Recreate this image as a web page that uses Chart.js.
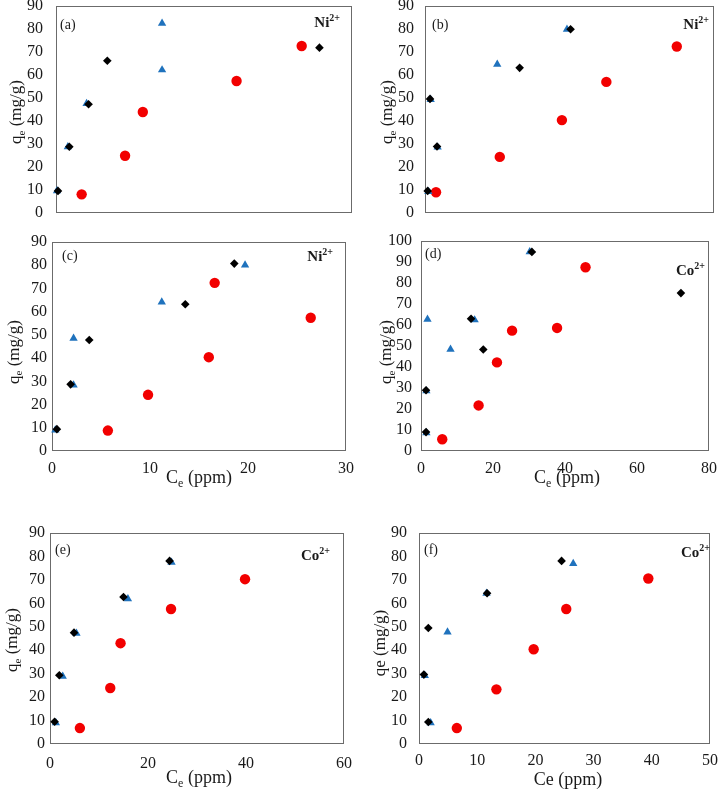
<!DOCTYPE html>
<html>
<head>
<meta charset="utf-8">
<script src="https://cdn.jsdelivr.net/npm/chart.js@4.4.1/dist/chart.umd.min.js"></script>
<style>
  html, body { margin: 0; padding: 0; background: #ffffff; }
  body { width: 725px; height: 790px; position: relative; overflow: hidden; }
  canvas { position: absolute; }
</style>
</head>
<body>
<script>
// ---------------- DATA ----------------
// Panel (a) Ni2+  (x axis unlabeled in the original)
const aBlackX = [0.2, 1.35, 3.3, 5.2, 26.7];
const aBlackY = [9.6, 28.8, 47.3, 66.2, 71.9];
const aBlueX  = [0.1, 1.2, 3.1, 10.75, 10.75];
const aBlueY  = [9.6, 28.8, 47.6, 62.2, 82.5];
const aRedX   = [2.6, 7.0, 8.8, 18.3, 24.9];
const aRedY   = [8.1, 24.9, 43.9, 57.4, 72.6];

// Panel (b) Ni2+  (x axis unlabeled in the original)
const bBlackX = [0.74, 1.39, 3.33, 26.2, 40.3];
const bBlackY = [9.6, 49.6, 28.9, 63.1, 79.9];
const bBlueX  = [0.92, 1.57, 3.5, 20.0, 39.3];
const bBlueY  = [9.3, 49.3, 28.6, 64.6, 79.9];
const bRedX   = [3.05, 20.7, 37.9, 50.2, 69.7];
const bRedY   = [9.0, 24.4, 40.4, 57.0, 72.4];

// Panel (c) Ni2+
const cBlackX = [0.5, 1.9, 3.8, 13.6, 18.6];
const cBlackY = [9.4, 28.7, 47.8, 63.2, 80.7];
const cBlueX  = [0.34, 2.2, 2.2, 11.2, 19.7];
const cBlueY  = [9.0, 28.4, 48.5, 64.1, 80.1];
const cRedX   = [5.7, 9.8, 16.0, 16.6, 26.4];
const cRedY   = [8.8, 24.2, 40.4, 72.4, 57.4];

// Panel (d) Co2+
const dBlackX = [1.4, 1.4, 13.9, 17.3, 30.8, 72.2];
const dBlackY = [9.0, 28.9, 63.0, 48.3, 94.8, 75.2];
const dBlueX  = [1.5, 1.5, 1.8, 8.2, 14.9, 30.2];
const dBlueY  = [8.7, 28.6, 62.7, 48.4, 62.4, 94.8];
const dRedX   = [5.9, 16.0, 21.1, 25.3, 37.8, 45.7];
const dRedY   = [5.6, 21.7, 42.2, 57.3, 58.6, 87.5];

// Panel (e) Co2+
const eBlackX = [0.94, 1.9, 4.9, 15.0, 24.4];
const eBlackY = [9.5, 29.3, 47.5, 62.7, 78.1];
const eBlueX  = [1.2, 2.6, 5.4, 15.9, 24.8];
const eBlueY  = [9.0, 28.9, 47.2, 61.9, 77.5];
const eRedX   = [6.1, 12.3, 14.4, 24.7, 39.8];
const eRedY   = [6.8, 23.9, 43.0, 57.6, 70.3];

// Panel (f) Co2+
const fBlackX = [0.84, 1.6, 1.6, 11.7, 24.5];
const fBlackY = [29.6, 9.4, 49.5, 64.3, 78.1];
const fBlueX  = [1.0, 2.0, 4.9, 11.6, 26.5];
const fBlueY  = [29.2, 9.0, 47.7, 64.3, 77.0];
const fRedX   = [6.5, 13.3, 19.7, 25.3, 39.4];
const fRedY   = [6.8, 23.3, 40.4, 57.6, 70.6];

// Axis ranges / ticks
const xRanges = { a: [0, 30, 10], b: [0, 80, 20], c: [0, 30, 10], d: [0, 80, 20], e: [0, 60, 20], f: [0, 50, 10] };
const yRanges = { a: [0, 90, 10], b: [0, 90, 10], c: [0, 90, 10], d: [0, 100, 10], e: [0, 90, 10], f: [0, 90, 10] };

// Texts
const panelLetters = { a: '(a)', b: '(b)', c: '(c)', d: '(d)', e: '(e)', f: '(f)' };
const ionNames = { a: ['Ni', '2+'], b: ['Ni', '2+'], c: ['Ni', '2+'], d: ['Co', '2+'], e: ['Co', '2+'], f: ['Co', '2+'] };
const yTitleSub = [['q', ''], ['e', 'sub'], [' (mg/g)', '']];
const yTitlePlain = [['qe (mg/g)', '']];
const xTitleSub = [['C', ''], ['e', 'sub'], [' (ppm)', '']];
const xTitlePlain = [['Ce (ppm)', '']];

// ---------------- LAYOUT (page pixels) ----------------
const FONT = "'Liberation Serif', 'Times New Roman', serif";
const panels = [
  { id: 'a', colX: 0,   colW: 362, area: { l: 56,  t: 6,   r: 352, b: 213 }, xTicks: false, yPad: 13, xPad: 8,
    letter: [60, 25], ion: [340, 22], yT: [15, 112], yTitle: yTitleSub, xT: null },
  { id: 'b', colX: 362, colW: 363, area: { l: 425, t: 6,   r: 714, b: 213 }, xTicks: false, yPad: 11, xPad: 8,
    letter: [432, 25], ion: [709, 24], yT: [386, 112], yTitle: yTitleSub, xT: null },
  { id: 'c', colX: 0,   colW: 362, area: { l: 52,  t: 242, r: 347, b: 451 }, xTicks: true,  yPad: 5, xPad: 8,
    letter: [62, 256], ion: [333, 256], yT: [12.5, 352], yTitle: yTitleSub, xT: [199, 477], xTitle: xTitleSub },
  { id: 'd', colX: 362, colW: 363, area: { l: 421, t: 241, r: 714, b: 451 }, xTicks: true,  yPad: 9, xPad: 8,
    letter: [425, 254], ion: [705, 270], yT: [385, 352], yTitle: yTitleSub, xT: [567, 477], xTitle: xTitleSub },
  { id: 'e', colX: 0,   colW: 362, area: { l: 50,  t: 533, r: 347, b: 744 }, xTicks: true,  yPad: 5, xPad: 10,
    letter: [55, 550], ion: [330, 555], yT: [11, 640], yTitle: yTitleSub, xT: [199, 777], xTitle: xTitleSub },
  { id: 'f', colX: 362, colW: 363, area: { l: 419, t: 533, r: 715, b: 744 }, xTicks: true,  yPad: 12, xPad: 7,
    letter: [424, 550], ion: [710, 552], yT: [379, 643], yTitle: yTitlePlain, xT: [568, 779], xTitle: xTitlePlain },
];

const seriesData = {
  a: [[aBlackX, aBlackY], [aBlueX, aBlueY], [aRedX, aRedY]],
  b: [[bBlackX, bBlackY], [bBlueX, bBlueY], [bRedX, bRedY]],
  c: [[cBlackX, cBlackY], [cBlueX, cBlueY], [cRedX, cRedY]],
  d: [[dBlackX, dBlackY], [dBlueX, dBlueY], [dRedX, dRedY]],
  e: [[eBlackX, eBlackY], [eBlueX, eBlueY], [eRedX, eRedY]],
  f: [[fBlackX, fBlackY], [fBlueX, fBlueY], [fRedX, fRedY]],
};

const BLACK = '#000000';
const BLUE = '#1f72bd';
const RED = '#f20000';
const TEXT = '#1a1a1a';
const BORDER = '#6b6b6b';

function pts(xs, ys) { return xs.map((x, i) => ({ x: x, y: ys[i] })); }

// rich text: parts = [[text, kind]] kind '' | 'sub' | 'sup'
function drawRich(ctx, parts, x, y, size, bold, align) {
  const weight = bold ? 'bold ' : '';
  const small = Math.round(size * 0.65);
  let total = 0;
  const widths = parts.map(p => {
    ctx.font = weight + (p[1] ? small : size) + 'px ' + FONT;
    const w = ctx.measureText(p[0]).width;
    total += w;
    return w;
  });
  let cx = align === 'center' ? x - total / 2 : (align === 'right' ? x - total : x);
  ctx.textBaseline = 'alphabetic';
  ctx.textAlign = 'left';
  parts.forEach((p, i) => {
    ctx.font = weight + (p[1] ? small : size) + 'px ' + FONT;
    let dy = 0;
    if (p[1] === 'sub') dy = size * 0.22;
    if (p[1] === 'sup') dy = -size * 0.38;
    ctx.fillText(p[0], cx, y + dy);
    cx += widths[i];
  });
}

panels.forEach(p => {
  const boxX = p.colX;
  const boxY = p.area.t - 30;
  const boxW = p.colW;
  const boxH = (p.area.b + 50) - boxY;
  const cv = document.createElement('canvas');
  cv.width = boxW; cv.height = boxH;
  cv.style.left = boxX + 'px'; cv.style.top = boxY + 'px';
  cv.style.width = boxW + 'px'; cv.style.height = boxH + 'px';
  document.body.appendChild(cv);

  const yAxisW = p.area.l - boxX;
  const xAxisH = boxY + boxH - p.area.b;
  const padTop = p.area.t - boxY;
  const padRight = boxX + boxW - p.area.r;

  const decor = {
    id: 'decor' + p.id,
    beforeDatasetsDraw(chart) {
      const ctx = chart.ctx;
      const ca = chart.chartArea;
      ctx.save();
      ctx.strokeStyle = BORDER;
      ctx.lineWidth = 1;
      ctx.strokeRect(Math.round(ca.left) + 0.5, Math.round(ca.top) + 0.5,
                     Math.round(ca.right - ca.left) - 1, Math.round(ca.bottom - ca.top) - 1);
      ctx.fillStyle = TEXT;
      // panel letter
      ctx.font = '14px ' + FONT;
      ctx.textAlign = 'left';
      ctx.textBaseline = 'middle';
      ctx.fillText(panelLetters[p.id], p.letter[0] - boxX, p.letter[1] - boxY);
      // ion label (bold with superscript)
      const ion = ionNames[p.id];
      drawRich(ctx, [[ion[0], ''], [ion[1], 'sup']], p.ion[0] - boxX, p.ion[1] - boxY + 5, 15, true, 'right');
      // y title (rotated)
      ctx.save();
      ctx.translate(p.yT[0] - boxX, p.yT[1] - boxY);
      ctx.rotate(-Math.PI / 2);
      drawRich(ctx, p.yTitle, 0, 6, 17, false, 'center');
      ctx.restore();
      // x title
      if (p.xT) {
        drawRich(ctx, p.xTitle, p.xT[0] - boxX, p.xT[1] - boxY + 6, 18, false, 'center');
      }
      ctx.restore();
    }
  };

  const sd = seriesData[p.id];
  const xr = xRanges[p.id];
  const yr = yRanges[p.id];

  new Chart(cv, {
    type: 'scatter',
    data: {
      datasets: [
        { data: pts(sd[0][0], sd[0][1]), pointStyle: 'rectRot', pointRadius: 4.3, backgroundColor: BLACK, borderColor: BLACK, borderWidth: 0, clip: false },
        { data: pts(sd[1][0], sd[1][1]), pointStyle: 'triangle', pointRadius: 4.8, backgroundColor: BLUE, borderColor: BLUE, borderWidth: 0, clip: false },
        { data: pts(sd[2][0], sd[2][1]), pointStyle: 'circle', pointRadius: 5.2, backgroundColor: RED, borderColor: RED, borderWidth: 0, clip: false },
      ]
    },
    options: {
      responsive: false,
      animation: false,
      devicePixelRatio: 1,
      layout: { padding: { top: padTop, right: padRight, left: 0, bottom: 0 } },
      plugins: { legend: { display: false }, tooltip: { enabled: false }, title: { display: false } },
      scales: {
        x: {
          type: 'linear', min: xr[0], max: xr[1],
          ticks: { display: p.xTicks, stepSize: xr[2], font: { family: FONT, size: 16 }, color: TEXT, padding: p.xPad, maxRotation: 0, autoSkip: false },
          grid: { display: false, drawTicks: false },
          border: { display: false },
          afterFit(s) { s.height = xAxisH; }
        },
        y: {
          type: 'linear', min: yr[0], max: yr[1],
          ticks: { stepSize: yr[2], font: { family: FONT, size: 16 }, color: TEXT, padding: p.yPad, autoSkip: false },
          grid: { display: false, drawTicks: false },
          border: { display: false },
          afterFit(s) { s.width = yAxisW; }
        }
      }
    },
    plugins: [decor]
  });
});
</script>
</body>
</html>
